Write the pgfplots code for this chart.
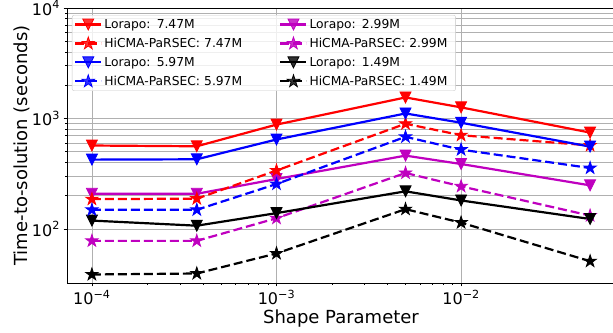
\documentclass[border=0pt]{standalone}
\usepackage{pgfplots}
\pgfplotsset{compat=1.18}
\usepackage{fontspec}
\setmainfont{DejaVu Sans}
\definecolor{mplm}{rgb}{0.75,0,0.75}
\definecolor{gridc}{HTML}{B0B0B0}
\pgfdeclareplotmark{fstar}{%
  \pgfpathmoveto{\pgfpointpolar{90}{\pgfplotmarksize}}%
  \pgfpathlineto{\pgfpointpolar{126}{0.382\pgfplotmarksize}}%
  \pgfpathlineto{\pgfpointpolar{162}{\pgfplotmarksize}}%
  \pgfpathlineto{\pgfpointpolar{198}{0.382\pgfplotmarksize}}%
  \pgfpathlineto{\pgfpointpolar{234}{\pgfplotmarksize}}%
  \pgfpathlineto{\pgfpointpolar{270}{0.382\pgfplotmarksize}}%
  \pgfpathlineto{\pgfpointpolar{306}{\pgfplotmarksize}}%
  \pgfpathlineto{\pgfpointpolar{342}{0.382\pgfplotmarksize}}%
  \pgfpathlineto{\pgfpointpolar{18}{\pgfplotmarksize}}%
  \pgfpathlineto{\pgfpointpolar{54}{0.382\pgfplotmarksize}}%
  \pgfpathclose\pgfusepathqfillstroke}
\pgfdeclareplotmark{tdown}{%
  \pgfpathmoveto{\pgfqpoint{0pt}{-\pgfplotmarksize}}%
  \pgfpathlineto{\pgfqpoint{-\pgfplotmarksize}{\pgfplotmarksize}}%
  \pgfpathlineto{\pgfqpoint{\pgfplotmarksize}{\pgfplotmarksize}}%
  \pgfpathclose\pgfusepathqfillstroke}
\begin{document}
\begin{tikzpicture}
\begin{axis}[
  xmode=log, ymode=log,
  scale only axis, width=548pt, height=275pt,
  xmin=7.33e-5, xmax=0.0682,
  ymin=32.4, ymax=1e4,
  xtick={1e-4,1e-3,1e-2},
  xticklabels={10\textsuperscript{−4},10\textsuperscript{−3},10\textsuperscript{−2}},
  ytick={1e2,1e3,1e4},
  yticklabels={10\textsuperscript{2},10\textsuperscript{3},10\textsuperscript{4}},
  tick label style={font=\fontsize{16}{19}\selectfont},
  xlabel={Shape Parameter},
  ylabel={Time-to-solution (seconds)},
  every axis x label/.style={at={(axis description cs:0.5,-0.1455)}, anchor=base, font=\fontsize{18}{21}\selectfont},
  every axis y label/.style={at={(axis description cs:-0.0821,0.5)}, rotate=90, anchor=center, font=\fontsize{18}{21}\selectfont},
  tick align=outside, xtick pos=bottom, ytick pos=left,
  major tick length=3.5pt, minor tick length=2pt,
  tick style={black, line width=0.8pt},
  axis line style={line width=0.8pt},
  grid=major,
  yminorgrids=true,
  major grid style={gridc, line width=0.8pt},
  minor grid style={gridc, line width=0.8pt},
  every axis plot/.append style={line width=2.2pt, mark options={solid, line width=0.8pt}},
  legend columns=2,
  legend style={at={(rel axis cs:0.0091,0.9745)}, anchor=north west,
    draw=gridc!70, rounded corners=2pt, fill=white, fill opacity=0.8, text opacity=1, draw opacity=1,
    font=\fontsize{12.3}{14}\selectfont, row sep=4.2pt, inner sep=2pt,
    nodes={text width=142pt, align=left, inner sep=2pt, anchor=west},
    /tikz/every even column/.append style={column sep=31pt}},
  legend image code/.code={\path[draw=none,fill=none] (-1pt,-6pt) rectangle (27pt,6pt);\draw[mark repeat=2, mark phase=2, #1] plot coordinates {(0pt,0pt) (13pt,0pt) (26pt,0pt)};},
]
\addplot[red, mark=tdown, mark size=5.5pt] coordinates {(1e-4,569) (3.7e-4,560) (1e-3,880) (5e-3,1550) (1e-2,1260) (5e-2,745)};
\addlegendentry{Lorapo: 7.47M}
\addplot[mplm, mark=tdown, mark size=5.5pt] coordinates {(1e-4,208) (3.7e-4,208) (1e-3,283) (5e-3,461) (1e-2,387) (5e-2,248)};
\addlegendentry{Lorapo: 2.99M}
\addplot[red, dash pattern=on 9pt off 4pt, mark=fstar, mark size=6.5pt] coordinates {(1e-4,186) (3.7e-4,188) (1e-3,338) (5e-3,896) (1e-2,705) (5e-2,570)};
\addlegendentry{HiCMA-PaRSEC: 7.47M}
\addplot[mplm, dash pattern=on 9pt off 4pt, mark=fstar, mark size=6.5pt] coordinates {(1e-4,78) (3.7e-4,78) (1e-3,125) (5e-3,321) (1e-2,243) (5e-2,132)};
\addlegendentry{HiCMA-PaRSEC: 2.99M}
\addplot[blue, mark=tdown, mark size=5.5pt] coordinates {(1e-4,424) (3.7e-4,427) (1e-3,645) (5e-3,1110) (1e-2,915) (5e-2,556)};
\addlegendentry{Lorapo: 5.97M}
\addplot[black, mark=tdown, mark size=5.5pt] coordinates {(1e-4,119) (3.7e-4,107) (1e-3,139) (5e-3,219) (1e-2,181) (5e-2,123)};
\addlegendentry{Lorapo: 1.49M}
\addplot[blue, dash pattern=on 9pt off 4pt, mark=fstar, mark size=6.5pt] coordinates {(1e-4,149) (3.7e-4,149) (1e-3,255) (5e-3,682) (1e-2,522) (5e-2,356)};
\addlegendentry{HiCMA-PaRSEC: 5.97M}
\addplot[black, dash pattern=on 9pt off 4pt, mark=fstar, mark size=6.5pt] coordinates {(1e-4,38.7) (3.7e-4,39.5) (1e-3,60) (5e-3,151) (1e-2,114) (5e-2,51)};
\addlegendentry{HiCMA-PaRSEC: 1.49M}
\end{axis}
\pgfresetboundingbox
\useasboundingbox (-67pt,-49pt) rectangle (546pt,283pt);
\end{tikzpicture}
\end{document}
